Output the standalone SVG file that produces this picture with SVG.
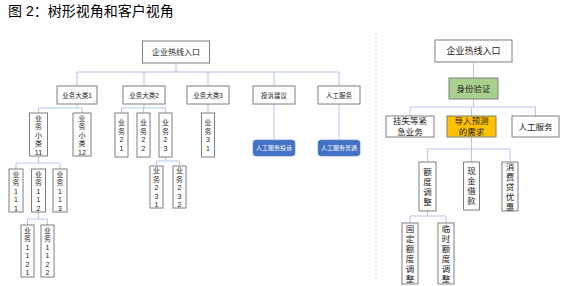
<svg xmlns="http://www.w3.org/2000/svg" width="565" height="286" viewBox="0 0 565 286">
<style>
text{font-family:"Liberation Sans","Noto Sans CJK SC",sans-serif;fill:#222;text-anchor:middle;dominant-baseline:central}
.title{font-size:14px;text-anchor:start;dominant-baseline:auto;fill:#000}
.box{fill:#fff;stroke:#7f7f7f;stroke-width:1}
.l1{font-size:6.5px}
.v{font-size:7px}
.rv{font-size:8.5px}
.r{font-size:8.5px}
.btn{fill:#4472C4;stroke:#5b82c8;stroke-width:0.6}
.btnt{font-size:6px;fill:#fff}
.conn{fill:none;stroke:#B4C7E7;stroke-width:1}
</style>
<rect width="565" height="286" fill="#fff"/>
<text class="title" x="8" y="16">图 2：树形视角和客户视角</text>

<g id="connectors" class="conn">
  <path d="M176,63V72M77,72H339M77,72V86M144,72V86M208,72V86M274,72V86M339,72V86"/>
  <path d="M77,104V108M38.5,108H82M38.5,108V113M82,108V113"/>
  <path d="M144,104V108M121.5,108H165.5M121.5,108V113M143.5,108V113M165.5,108V113"/>
  <path d="M208,104V113"/>
  <path d="M274,104V140M339,104V140"/>
  <path d="M38.5,156V163M16,163H60M16,163V169M60,163V169"/>
  <path d="M165.5,157V161M156.5,161H179.5M156.5,161V166M179.5,161V166"/>
  <path d="M38.5,212V219M27.5,219H47.5M27.5,219V225M47.5,219V225"/>
  <path d="M473.5,62V78M473.5,99V107M410,107H535.5M410,107V116M535.5,107V116M471.5,107V116"/>
  <path d="M471.5,137V149M427.5,149H510M427.5,149V162M471.5,149V162M510,149V162"/>
  <path d="M427.5,211V216M410,216H446M410,216V223M446,216V223"/>
</g>

<line x1="376" y1="33" x2="376" y2="282" stroke="#d4d4d4" stroke-width="1" stroke-dasharray="2,2"/>

<g id="root-left"><rect class="box" x="142.5" y="41" width="67" height="22"/><text x="176" y="52" style="font-size:8px">企业热线入口</text></g>
<g id="cat1"><rect class="box" x="57" y="86" width="40" height="18"/><text class="l1" x="77" y="95">业务大类1</text></g>
<g id="cat2"><rect class="box" x="123" y="86" width="42" height="18"/><text class="l1" x="144" y="95">业务大类2</text></g>
<g id="cat3"><rect class="box" x="187" y="86" width="42" height="18"/><text class="l1" x="208" y="95">业务大类3</text></g>
<g id="complaint"><rect class="box" x="253" y="86" width="42" height="18"/><text class="l1" x="274" y="95">投诉建议</text></g>
<g id="manual-left"><rect class="box" x="318" y="86" width="42" height="18"/><text class="l1" x="339" y="95">人工服务</text></g>

<g id="sub11"><rect class="box" x="29.5" y="113" width="18" height="43"/><text class="v"><tspan x="38.5" y="117.5">业</tspan><tspan x="38.5" y="126">务</tspan><tspan x="38.5" y="134.5">小</tspan><tspan x="38.5" y="143">类</tspan><tspan x="38.5" y="151.5">11</tspan></text></g>
<g id="sub12"><rect class="box" x="73" y="113" width="18" height="43"/><text class="v"><tspan x="82" y="117.5">业</tspan><tspan x="82" y="126">务</tspan><tspan x="82" y="134.5">小</tspan><tspan x="82" y="143">类</tspan><tspan x="82" y="151.5">12</tspan></text></g>

<g id="b21"><rect class="box" x="115" y="113" width="13" height="44"/><text class="v"><tspan x="121.5" y="122.25">业</tspan><tspan x="121.5" y="130.75">务</tspan><tspan x="121.5" y="139.25">2</tspan><tspan x="121.5" y="147.75">1</tspan></text></g>
<g id="b22"><rect class="box" x="137" y="113" width="13" height="44"/><text class="v"><tspan x="143.5" y="122.25">业</tspan><tspan x="143.5" y="130.75">务</tspan><tspan x="143.5" y="139.25">2</tspan><tspan x="143.5" y="147.75">2</tspan></text></g>
<g id="b23"><rect class="box" x="159" y="113" width="13" height="44"/><text class="v"><tspan x="165.5" y="122.25">业</tspan><tspan x="165.5" y="130.75">务</tspan><tspan x="165.5" y="139.25">2</tspan><tspan x="165.5" y="147.75">3</tspan></text></g>
<g id="b31"><rect class="box" x="201.5" y="113" width="13" height="44"/><text class="v"><tspan x="208" y="122.25">业</tspan><tspan x="208" y="130.75">务</tspan><tspan x="208" y="139.25">3</tspan><tspan x="208" y="147.75">1</tspan></text></g>

<g id="btn-complaint"><rect class="btn" x="253" y="140" width="42" height="16" rx="3"/><text class="btnt" x="274" y="148">人工服务投诉</text></g>
<g id="btn-normal"><rect class="btn" x="318" y="140" width="42" height="16" rx="3"/><text class="btnt" x="339" y="148">人工服务普通</text></g>

<g id="b111"><rect class="box" x="9" y="169" width="14" height="43"/><text class="v"><tspan x="16" y="173.5">业</tspan><tspan x="16" y="182">务</tspan><tspan x="16" y="190.5">1</tspan><tspan x="16" y="199">1</tspan><tspan x="16" y="207.5">1</tspan></text></g>
<g id="b112"><rect class="box" x="31.5" y="169" width="14" height="43"/><text class="v"><tspan x="38.5" y="173.5">业</tspan><tspan x="38.5" y="182">务</tspan><tspan x="38.5" y="190.5">1</tspan><tspan x="38.5" y="199">1</tspan><tspan x="38.5" y="207.5">2</tspan></text></g>
<g id="b113"><rect class="box" x="53" y="169" width="14" height="43"/><text class="v"><tspan x="60" y="173.5">业</tspan><tspan x="60" y="182">务</tspan><tspan x="60" y="190.5">1</tspan><tspan x="60" y="199">1</tspan><tspan x="60" y="207.5">3</tspan></text></g>

<g id="b231"><rect class="box" x="150" y="166" width="13" height="42"/><text class="v"><tspan x="156.5" y="170">业</tspan><tspan x="156.5" y="178.5">务</tspan><tspan x="156.5" y="187">2</tspan><tspan x="156.5" y="195.5">3</tspan><tspan x="156.5" y="204">1</tspan></text></g>
<g id="b232"><rect class="box" x="173" y="166" width="13" height="42"/><text class="v"><tspan x="179.5" y="170">业</tspan><tspan x="179.5" y="178.5">务</tspan><tspan x="179.5" y="187">2</tspan><tspan x="179.5" y="195.5">3</tspan><tspan x="179.5" y="204">2</tspan></text></g>

<g id="b1121"><rect class="box" x="21" y="225" width="13" height="52"/><text class="v"><tspan x="27.5" y="229.75">业</tspan><tspan x="27.5" y="238.25">务</tspan><tspan x="27.5" y="246.75">1</tspan><tspan x="27.5" y="255.25">1</tspan><tspan x="27.5" y="263.75">2</tspan><tspan x="27.5" y="272.25">1</tspan></text></g>
<g id="b1122"><rect class="box" x="41" y="225" width="13" height="52"/><text class="v"><tspan x="47.5" y="229.75">业</tspan><tspan x="47.5" y="238.25">务</tspan><tspan x="47.5" y="246.75">1</tspan><tspan x="47.5" y="255.25">1</tspan><tspan x="47.5" y="263.75">2</tspan><tspan x="47.5" y="272.25">2</tspan></text></g>

<g id="root-right"><rect class="box" x="435" y="40" width="77" height="22"/><text x="473.5" y="51" style="font-size:9px">企业热线入口</text></g>
<g id="verify"><rect x="449" y="78" width="49" height="21" fill="#A9D18E" stroke="#7f7f7f"/><text class="r" x="473.5" y="88.5">身份验证</text></g>
<g id="urgent"><rect class="box" x="386" y="116" width="48" height="21"/><text class="r"><tspan x="410" y="121">挂失等紧</tspan><tspan x="410" y="132">急业务</tspan></text></g>
<g id="predict"><rect x="447" y="116" width="49" height="21" fill="#FFC000" stroke="#7f7f7f"/><text class="r"><tspan x="471.5" y="121">导入预测</tspan><tspan x="471.5" y="132">的需求</tspan></text></g>
<g id="manual-right"><rect class="box" x="512" y="116" width="47" height="21"/><text class="r" x="535.5" y="126.5">人工服务</text></g>

<g id="quota"><rect class="box" x="419" y="162" width="17" height="49"/><text class="rv"><tspan x="427.5" y="171.5">额</tspan><tspan x="427.5" y="181.5">度</tspan><tspan x="427.5" y="191.5">调</tspan><tspan x="427.5" y="201.5">整</tspan></text></g>
<g id="cash"><rect class="box" x="463.5" y="162" width="16" height="48"/><text class="rv"><tspan x="471.5" y="171">现</tspan><tspan x="471.5" y="181">金</tspan><tspan x="471.5" y="191">借</tspan><tspan x="471.5" y="201">款</tspan></text></g>
<g id="consumer"><rect class="box" x="502" y="162" width="16" height="49"/><text class="rv"><tspan x="510" y="166.5">消</tspan><tspan x="510" y="176.5">费</tspan><tspan x="510" y="186.5">贷</tspan><tspan x="510" y="196.5">优</tspan><tspan x="510" y="206.5">惠</tspan></text></g>
<g id="fixed"><rect class="box" x="402" y="223" width="16" height="61"/><text class="rv"><tspan x="410" y="228.5">固</tspan><tspan x="410" y="238.5">定</tspan><tspan x="410" y="248.5">额</tspan><tspan x="410" y="258.5">度</tspan><tspan x="410" y="268.5">调</tspan><tspan x="410" y="278.5">整</tspan></text></g>
<g id="temp"><rect class="box" x="438" y="223" width="16" height="61"/><text class="rv"><tspan x="446" y="228.5">临</tspan><tspan x="446" y="238.5">时</tspan><tspan x="446" y="248.5">额</tspan><tspan x="446" y="258.5">度</tspan><tspan x="446" y="268.5">调</tspan><tspan x="446" y="278.5">整</tspan></text></g>
</svg>
